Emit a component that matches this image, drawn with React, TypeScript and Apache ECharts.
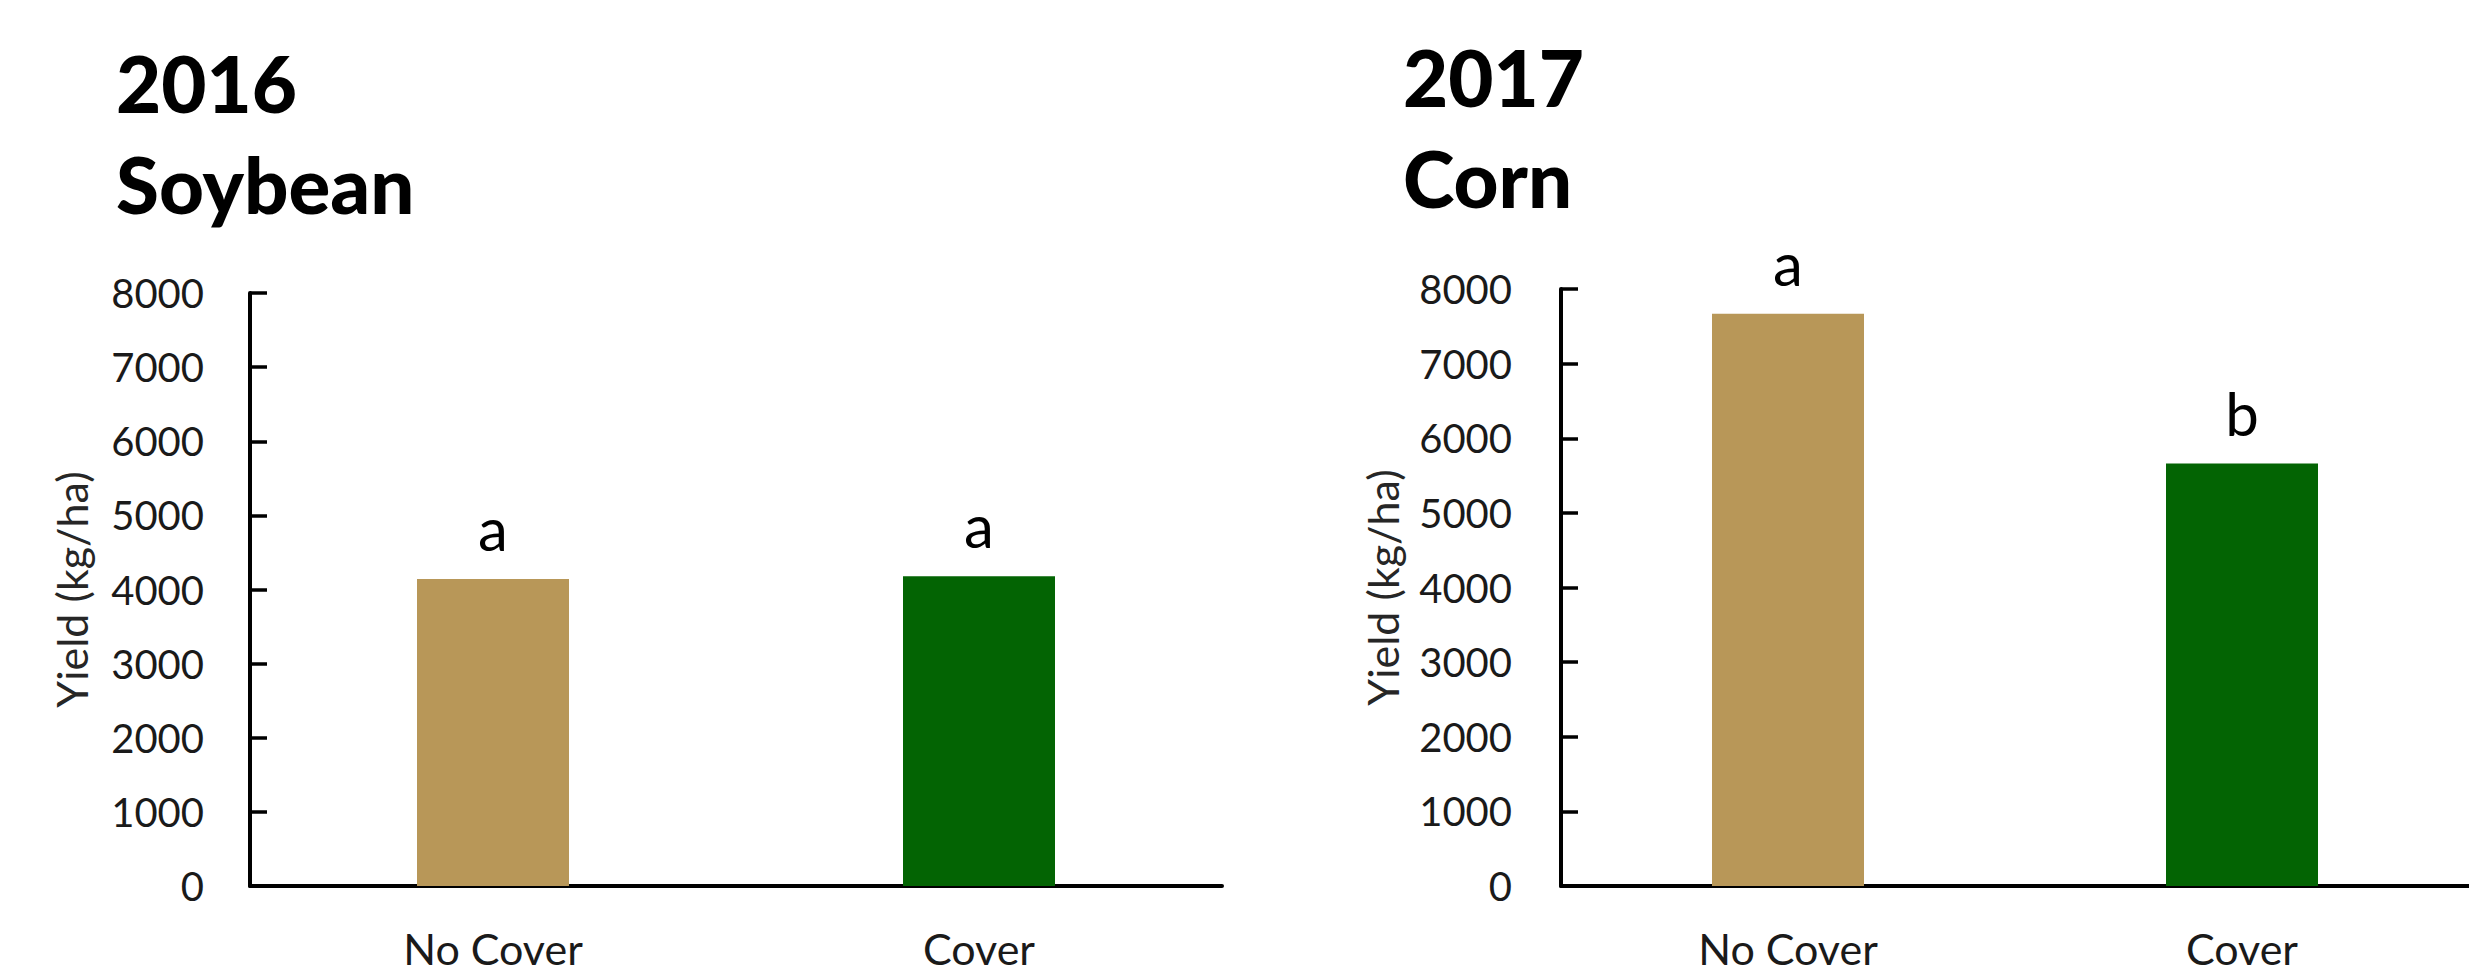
import React, { useEffect, useRef } from "react";
import * as echarts from "echarts";

// Treatments shown on each panel's category axis
const categories = ["No Cover", "Cover"];

// Mean grain yield (kg/ha) per treatment
const yield2016Soybean = [4140, 4180];
const yield2017Corn = [7670, 5660];

// Mean-separation letters drawn above each bar
const letters2016 = ["a", "a"];
const letters2017 = ["a", "b"];

// Value-axis range
const yMin = 0;
const yMax = 8000;
const yStep = 1000;

const panelTitles = ["2016\nSoybean", "2017\nCorn"];
const yAxisName = "Yield (kg/ha)";
const barColors = ["#B89758", "#036403"];

const LABEL_FONT = "Lato, 'Open Sans', sans-serif";

function makeGrid(left: number, top: number, width: number, height: number) {
  return { left, top, width, height, containLabel: false };
}

function makeXAxis(gridIndex: number) {
  return {
    type: "category",
    gridIndex,
    data: categories,
    axisLine: { show: true, lineStyle: { color: "#000", width: 4 } },
    axisTick: { show: false },
    axisLabel: {
      color: "#1a1a1a",
      fontFamily: LABEL_FONT,
      fontSize: 43,
      margin: 41,
    },
    splitLine: { show: false },
  };
}

function makeYAxis(gridIndex: number, labelMargin: number) {
  return {
    type: "value",
    gridIndex,
    min: yMin,
    max: yMax,
    interval: yStep,
    name: yAxisName,
    nameLocation: "middle",
    nameGap: 157,
    nameTextStyle: { color: "#262626", fontFamily: LABEL_FONT, fontSize: 43 },
    axisLine: { show: true, lineStyle: { color: "#000", width: 4 } },
    axisTick: { show: true, inside: true, length: 17, lineStyle: { color: "#000", width: 3.5 } },
    axisLabel: {
      color: "#1a1a1a",
      fontFamily: LABEL_FONT,
      fontSize: 40,
      margin: labelMargin,
      formatter: (v: number) => String(v),
    },
    splitLine: { show: false },
  };
}

function makeSeries(index: number, values: number[], letters: string[]) {
  return {
    type: "bar",
    xAxisIndex: index,
    yAxisIndex: index,
    barWidth: 152,
    data: values.map((v, i) => ({ value: v, itemStyle: { color: barColors[i] } })),
    label: {
      show: true,
      position: "top",
      distance: 21,
      color: "#000",
      fontFamily: LABEL_FONT,
      fontSize: 60,
      formatter: (p: { dataIndex: number }) => letters[p.dataIndex],
    },
  };
}

export default function App() {
  const ref = useRef<HTMLDivElement>(null);

  useEffect(() => {
    if (!ref.current) return;
    const chart = echarts.init(ref.current, undefined, { renderer: "svg" });
    const titleStyle = {
      color: "#000",
      fontFamily: LABEL_FONT,
      fontWeight: 900,
      fontSize: 78,
      lineHeight: 101,
    };
    chart.setOption({
      animation: false,
      backgroundColor: "#fff",
      title: [
        { text: panelTitles[0], left: 116, top: 32, padding: 0, textStyle: titleStyle },
        { text: panelTitles[1], left: 1403, top: 26, padding: 0, textStyle: titleStyle },
      ],
      grid: [makeGrid(250, 293, 972, 598), makeGrid(1561, 289, 970, 601)],
      xAxis: [makeXAxis(0), makeXAxis(1)],
      yAxis: [makeYAxis(0, 46), makeYAxis(1, 49)],
      series: [makeSeries(0, yield2016Soybean, letters2016), makeSeries(1, yield2017Corn, letters2017)],
    });
    return () => chart.dispose();
  }, []);

  return (
    <div
      ref={ref}
      style={{ position: "absolute", left: 0, top: 0, width: 2469, height: 970, background: "#fff" }}
    />
  );
}
